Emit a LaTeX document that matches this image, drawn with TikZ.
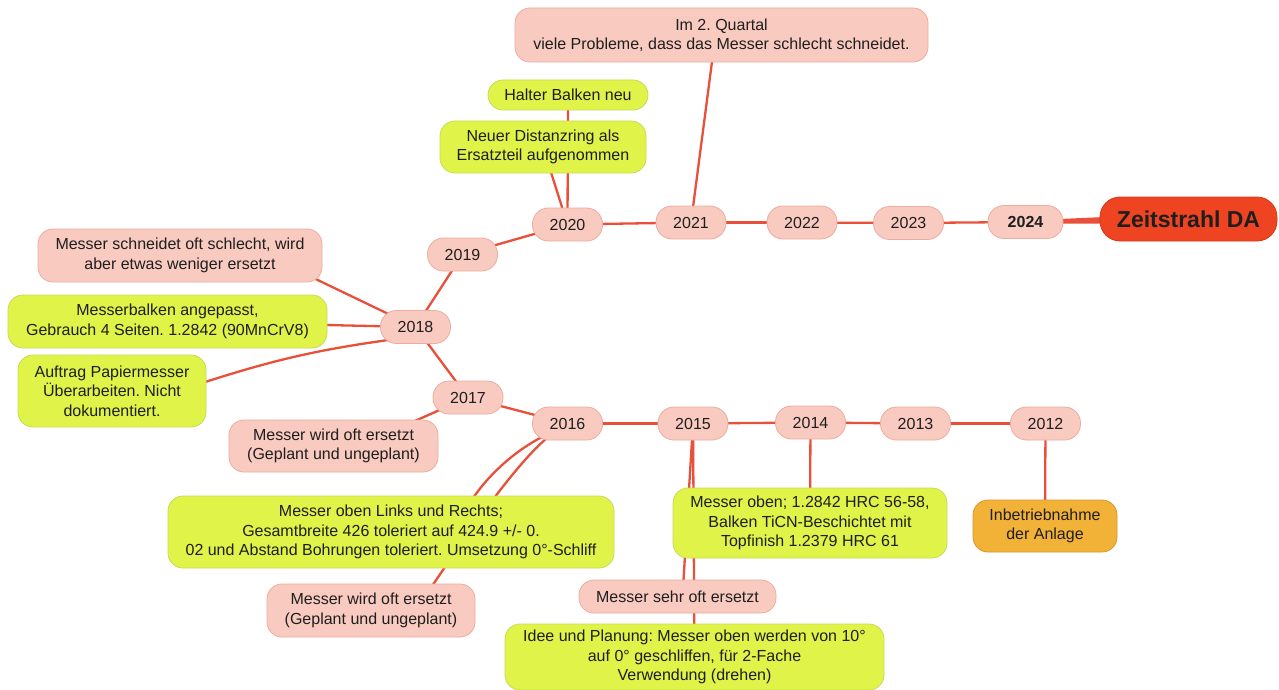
\documentclass[tikz,border=0pt]{standalone}
\usepackage{fontspec}
\setmainfont{Liberation Sans}
\usetikzlibrary{calc,backgrounds}
\definecolor{pinkf}{RGB}{249,203,192}
\definecolor{pinkd}{RGB}{236,172,160}
\definecolor{greenf}{RGB}{224,243,72}
\definecolor{greend}{RGB}{200,218,90}
\definecolor{orangef}{RGB}{242,178,56}
\definecolor{oranged}{RGB}{214,150,50}
\definecolor{redf}{RGB}{238,68,34}
\definecolor{redd}{RGB}{214,56,28}
\definecolor{linec}{RGB}{232,80,58}
\definecolor{txt}{RGB}{30,30,30}
\frenchspacing
\begin{document}
\begin{tikzpicture}[x=1pt,y=-1pt,
 base/.style={draw, line width=0.8pt, align=center, inner sep=0pt, text=txt,
   font=\fontsize{16}{19.5}\selectfont, rounded corners=15pt},
 pinkbox/.style={base, fill=pinkf, draw=pinkd},
 greenbox/.style={base, fill=greenf, draw=greend},
 yearbox/.style={pinkbox, minimum width=70pt, minimum height=33pt, rounded corners=16pt},
 conn/.style={draw=linec, line width=2.3pt},
]
\useasboundingbox (0,0) rectangle (1279,690);

% nodes
\node[pinkbox, minimum width=413pt, minimum height=54pt] (q2) at (721.5,35) {Im 2. Quartal\\viele Probleme, dass das Messer schlecht schneidet.};
\node[greenbox, minimum width=160pt, minimum height=30pt] (halter) at (568,95) {Halter Balken neu};
\node[greenbox, minimum width=206pt, minimum height=52pt] (dist) at (543,147) {Neuer Distanzring als\\Ersatzteil aufgenommen};
\node[yearbox] (y2020) at (567.5,224.5) {2020};
\node[yearbox] (y2021) at (691,222.5) {2021};
\node[yearbox] (y2022) at (802,222.5) {2022};
\node[yearbox] (y2023) at (908.5,223) {2023};
\node[yearbox, minimum width=75pt, font=\bfseries\fontsize{16}{19.5}\selectfont] (y2024) at (1025.5,222) {2024};
\node[base, fill=redf, draw=redd, minimum width=177pt, minimum height=44pt, rounded corners=20pt,
  font=\bfseries\fontsize{23}{27}\selectfont] (zeit) at (1188.5,219) {Zeitstrahl DA};
\node[yearbox] (y2019) at (462.5,254.5) {2019};
\node[yearbox] (y2018) at (415.5,327) {2018};
\node[pinkbox, minimum width=284pt, minimum height=53pt] (ms) at (180,255.5) {Messer schneidet oft schlecht, wird\\aber etwas weniger ersetzt};
\node[greenbox, minimum width=319pt, minimum height=53pt] (mb) at (167.5,321.5) {Messerbalken angepasst,\\Gebrauch 4 Seiten. 1.2842 (90MnCrV8)};
\node[greenbox, minimum width=188pt, minimum height=72pt] (au) at (112,391) {Auftrag Papiermesser\\Überarbeiten. Nicht\\dokumentiert.};
\node[yearbox] (y2017) at (468,397.5) {2017};
\node[yearbox] (y2016) at (567.5,423.5) {2016};
\node[pinkbox, minimum width=209pt, minimum height=52pt] (mw1) at (333.5,446) {Messer wird oft ersetzt\\(Geplant und ungeplant)};
\node[greenbox, minimum width=446pt, minimum height=72pt] (mol) at (391,532) {Messer oben Links und Rechts;\\Gesamtbreite 426 toleriert auf 424.9 +/- 0.\\02 und Abstand Bohrungen toleriert. Umsetzung 0°-Schliff};
\node[pinkbox, minimum width=208pt, minimum height=53pt] (mw2) at (371,610.5) {Messer wird oft ersetzt\\(Geplant und ungeplant)};
\node[yearbox] (y2015) at (693,423.5) {2015};
\node[yearbox] (y2014) at (810.5,422.5) {2014};
\node[yearbox] (y2013) at (915.5,423.5) {2013};
\node[yearbox] (y2012) at (1045.5,423.5) {2012};
\node[greenbox, minimum width=274pt, minimum height=70pt] (mo) at (810,523) {Messer oben; 1.2842 HRC 56-58,\\Balken TiCN-Beschichtet mit\\Topfinish 1.2379 HRC 61};
\node[base, fill=orangef, draw=oranged, minimum width=144pt, minimum height=52pt] (inb) at (1045,526) {Inbetriebnahme\\der Anlage};
\node[pinkbox, minimum width=197pt, minimum height=33pt] (mso) at (677.5,596.5) {Messer sehr oft ersetzt};
\node[greenbox, minimum width=379pt, minimum height=66pt] (idee) at (694.5,657) {Idee und Planung: Messer oben werden von 10°\\auf 0° geschliffen, für 2-Fache\\Verwendung (drehen)};

% connectors
\begin{pgfonlayer}{background}
\fill[white] (0,0) rectangle (1279,690);
\fill[linec] ($(y2024.center)+(0,-1.5)$) -- ($(zeit.center)+(-50,-3.5)$) -- ($(zeit.center)+(-50,4.5)$) -- ($(y2024.center)+(0,1.5)$) -- cycle;
\draw[conn] (y2023.center) -- (y2024.center);
\draw[conn] (y2022.center) -- (y2023.center);
\draw[conn] (y2021.center) -- (y2022.center);
\draw[conn] (y2020.center) -- (y2021.center);
\draw[conn] (y2021.center) -- ($(q2.center)+(-6,0)$);
\draw[conn] (y2020.center) -- (halter.center);
\draw[conn] (y2020.center) -- (dist.center);
\draw[conn] (y2020.center) -- (y2019.center);
\draw[conn] (y2019.center) -- (y2018.center);
\draw[conn] (y2018.center) -- ($(ms.center)+(120,16)$);
\draw[conn] (y2018.center) -- (mb.center);
\draw[conn] ($(y2018.center)+(-20,12)$) to[bend right=5] ($(au.center)+(90,-8)$);
\draw[conn] (y2018.center) -- (y2017.center);
\draw[conn] (y2017.center) -- (y2016.center);
\draw[conn] (y2017.center) -- ($(mw1.center)+(70,-20)$);
\draw[conn] ($(y2016.center)+(-25.5,13.5)$) .. controls ($(y2016.center)+(-60.5,31.5)$) and ($(mol.center)+(86,-45)$) .. ($(mol.center)+(74,-20)$);
\draw[conn] ($(y2016.center)+(-20.5,14.5)$) .. controls ($(y2016.center)+(-52.5,41.5)$) and ($(mw2.center)+(99,-80.5)$) .. ($(mw2.center)+(57,-18.5)$);
\draw[conn] (y2016.center) -- (y2015.center);
\draw[conn] (y2015.center) -- (y2014.center);
\draw[conn] (y2014.center) -- (y2013.center);
\draw[conn] (y2013.center) -- (y2012.center);
\draw[conn] (y2015.center) -- ($(mso.center)+(5,0)$);
\draw[conn] (y2015.center) -- (idee.center);
\draw[conn] (y2014.center) -- (mo.center);
\draw[conn] (y2012.center) -- (inb.center);
\end{pgfonlayer}
\end{tikzpicture}
\end{document}
